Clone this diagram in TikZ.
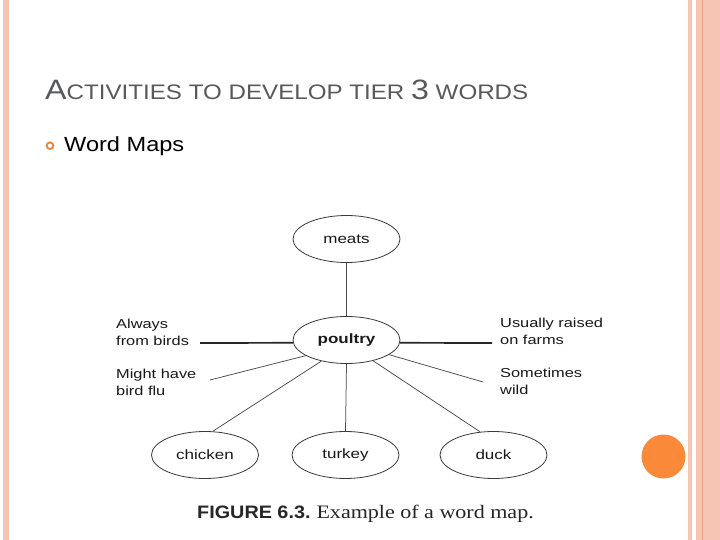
\documentclass[tikz,border=0pt]{standalone}
\usepackage{fontspec}
\usetikzlibrary{shapes.geometric}
\setmainfont{Liberation Sans}
\newfontfamily\slidefont[FakeStretch=1.15]{Liberation Sans}
\newfontfamily\figfont[FakeStretch=1.26]{Liberation Sans}
\newfontfamily\capserif[FakeStretch=1.16]{Liberation Serif}
\newfontfamily\capsans[FakeStretch=1.1]{Liberation Sans}
\definecolor{peach}{HTML}{F7C6B2}
\definecolor{peachdark}{HTML}{E9A07E}
\definecolor{orangedot}{HTML}{FA8A3A}
\definecolor{bulletc}{HTML}{E4873F}
\definecolor{titlegray}{HTML}{58595B}
\definecolor{figline}{HTML}{3A3A3A}
\begin{document}
\begin{tikzpicture}[x=1pt,y=-1pt,
  bubble/.style={ellipse,draw=figline,line width=0.8pt,minimum width=107pt,minimum height=47pt,inner sep=0pt,text=black!90,font=\figfont\fontsize{13.5}{16}\selectfont},
  lbl/.style={anchor=west,align=left,inner sep=0pt,text=black!90,font=\figfont\fontsize{13}{17}\selectfont},
  thin/.style={draw=black!70,line width=0.75pt},
  thick/.style={draw=black!85,line width=1.7pt}]
\useasboundingbox (0,0) rectangle (720,540);
\fill[white] (0,0) rectangle (720,540);
% side bands
\fill[peach] (3,0) rectangle (9,540);
\fill[peach] (688,0) rectangle (692,540);
\fill[peach] (696,0) rectangle (720,540);
\fill[peachdark] (701.7,0) rectangle (703.2,540);
\fill[orangedot] (663.5,456.5) circle (22);
% title
\node[anchor=base west,inner sep=0pt,text=titlegray] (title) at (45,100)
  {\slidefont\fontsize{28}{30}\selectfont A\fontsize{21}{24}\selectfont CTIVITIES TO DEVELOP TIER \fontsize{28}{30}\selectfont 3\fontsize{21}{24}\selectfont{} WORDS};
\draw[bulletc,line width=1.9pt] (50,145.7) circle (3.3);
\node[anchor=base west,inner sep=0pt,text=black] (wm) at (64,152)
  {\slidefont\fontsize{20.5}{24}\selectfont Word Maps};
% word map
\node[bubble] (meats) at (346.5,239) {meats};
\node[bubble,font=\figfont\bfseries\fontsize{13.5}{16}\selectfont] (poultry) at (346.5,340) {poultry};
\node[bubble] (chicken) at (205,455) {chicken};
\node[bubble] (turkey) at (345.5,455) {turkey};
\node[bubble] (duck) at (493.5,455) {duck};
\node[lbl] (always) at (116,332.5) {Always\\from birds};
\node[lbl] (might) at (116,382) {Might have\\bird flu};
\node[lbl] (usually) at (500,331.5) {Usually raised\\on farms};
\node[lbl] (some) at (500,381) {Sometimes\\wild};
\coordinate (aEnd) at (200,343);
\coordinate (uEnd) at (492,343);
\coordinate (mEnd) at (210,380);
\coordinate (sEnd) at (483,382);
\draw[thin] (meats.south) -- (poultry.north);
\draw[thick] (aEnd) -- (poultry.183);
\draw[thick] (poultry.357) -- (uEnd);
\draw[thin] (mEnd) -- (poultry.201);
\draw[thin] (poultry.341) -- (sEnd);
\draw[thin] (poultry.220) -- (chicken.72);
\draw[thin] (poultry.south) -- (turkey.north);
\draw[thin] (poultry.322) -- (duck.120);
% caption
\node[anchor=base west,inner sep=0pt,text=black!85] (cap) at (197,518)
  {{\capsans\bfseries\fontsize{18}{20}\selectfont FIGURE 6.3.}\hspace{6pt}{\capserif\fontsize{19}{20}\selectfont Example of a word map.}};
\end{tikzpicture}
\end{document}
